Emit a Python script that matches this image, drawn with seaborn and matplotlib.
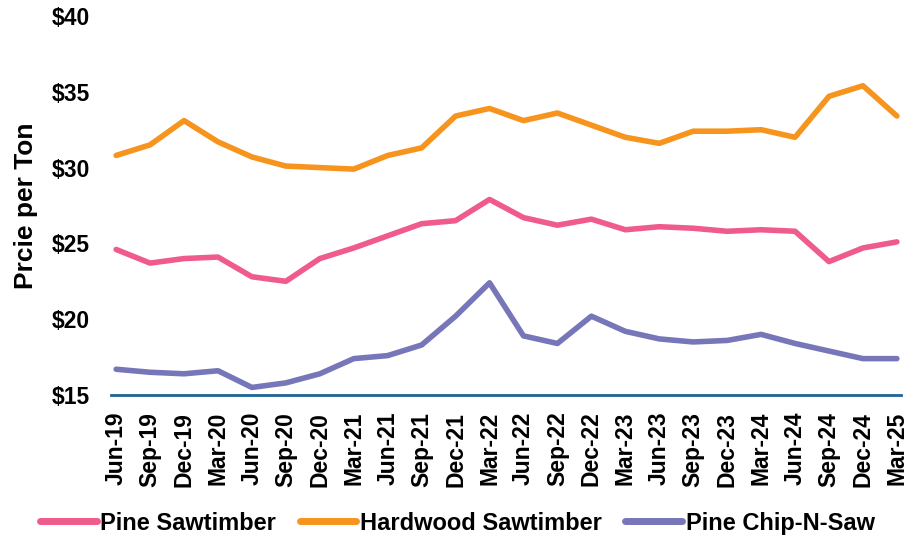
import pandas as pd
import matplotlib
matplotlib.use("Agg")
import matplotlib.pyplot as plt
import seaborn as sns

# Quarterly stumpage prices ($/ton)
quarters = ["Jun-19", "Sep-19", "Dec-19", "Mar-20", "Jun-20", "Sep-20", "Dec-20", "Mar-21",
            "Jun-21", "Sep-21", "Dec-21", "Mar-22", "Jun-22", "Sep-22", "Dec-22", "Mar-23",
            "Jun-23", "Sep-23", "Dec-23", "Mar-24", "Jun-24", "Sep-24", "Dec-24", "Mar-25"]

pine_sawtimber = [24.6, 23.7, 24.0, 24.1, 22.8, 22.5, 24.0, 24.7, 25.5, 26.3, 26.5, 27.9,
                  26.7, 26.2, 26.6, 25.9, 26.1, 26.0, 25.8, 25.9, 25.8, 23.8, 24.7, 25.1]
hardwood_sawtimber = [30.8, 31.5, 33.1, 31.7, 30.7, 30.1, 30.0, 29.9, 30.8, 31.3, 33.4, 33.9,
                      33.1, 33.6, 32.8, 32.0, 31.6, 32.4, 32.4, 32.5, 32.0, 34.7, 35.4, 33.4]
pine_chip_n_saw = [16.7, 16.5, 16.4, 16.6, 15.5, 15.8, 16.4, 17.4, 17.6, 18.3, 20.2, 22.4,
                   18.9, 18.4, 20.2, 19.2, 18.7, 18.5, 18.6, 19.0, 18.4, 17.9, 17.4, 17.4]

series_names = ["Pine Sawtimber", "Hardwood Sawtimber", "Pine Chip-N-Saw"]
colors = ["#EF5B8B", "#F7941D", "#7676B9"]

# long format for seaborn
rows = []
for name, vals in zip(series_names, [pine_sawtimber, hardwood_sawtimber, pine_chip_n_saw]):
    for i, v in enumerate(vals):
        rows.append({"idx": i, "price": v, "series": name})
df = pd.DataFrame(rows)

sns.set_style("white")
plt.rcParams["font.family"] = ["Liberation Sans", "DejaVu Sans"]
plt.rcParams["font.weight"] = "bold"
plt.rcParams["text.color"] = "black"
plt.rcParams["axes.labelcolor"] = "black"
plt.rcParams["xtick.color"] = "black"
plt.rcParams["ytick.color"] = "black"

fig = plt.figure(figsize=(9.2, 5.4), dpi=100)
ax = fig.add_axes([0.1207, 0.2685, 0.8586, 0.7019])

sns.lineplot(data=df, x="idx", y="price", hue="series", hue_order=series_names,
             palette=colors, linewidth=4, ax=ax, legend=False)

ax.set_ylim(15, 40)
ax.set_yticks([15, 20, 25, 30, 35, 40])
ax.set_yticklabels(["$%d" % t for t in [15, 20, 25, 30, 35, 40]], fontsize=16.5, fontweight="bold")
ax.set_xlim(-0.15, len(quarters) - 1 + 0.12)
ax.set_xticks(range(len(quarters)))
ax.set_xticklabels(quarters, rotation=90, fontsize=16.5, fontweight="bold")
ax.tick_params(axis="y", length=0, pad=15)
ax.tick_params(axis="x", length=0, pad=12)

ax.set_xlabel("")
ax.set_ylabel("Prcie per Ton", fontsize=19, fontweight="bold")
ax.yaxis.set_label_coords(-0.092, 0.5)

for s in ["top", "right", "left"]:
    ax.spines[s].set_visible(False)
ax.spines["bottom"].set_color("#1F6494")
ax.spines["bottom"].set_linewidth(2)
ax.grid(False)

handles = [plt.Line2D([], [], color=c, linewidth=5) for c in colors]
fig.legend(handles, series_names, loc="center", bbox_to_anchor=(0.497, 0.031), ncol=3,
           frameon=False, handlelength=2.4, handletextpad=0.15,
           columnspacing=1.0, prop={"weight": "bold", "size": 17})

fig.savefig("out.png", dpi=100)
